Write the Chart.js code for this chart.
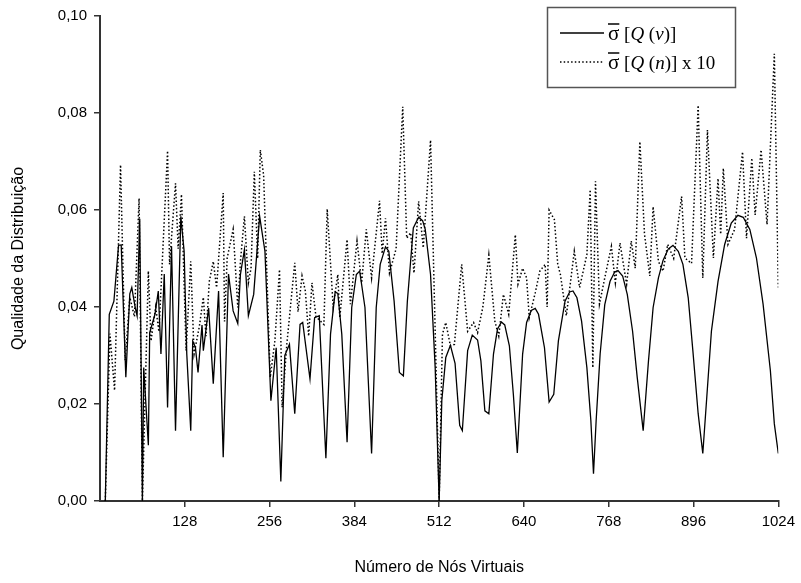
<!DOCTYPE html>
<html>
<head>
<meta charset="utf-8">
<script src="https://cdn.jsdelivr.net/npm/chart.js@4.4.0/dist/chart.umd.min.js"></script>
<style>
  html, body { margin: 0; background: #fff; }
  #wrap { width: 801px; height: 583px; position: relative; }
</style>
</head>
<body>
<div id="wrap"><canvas id="chart"></canvas></div>
<script>
// Eixos
const xTicks = [128, 256, 384, 512, 640, 768, 896, 1024];
const yTicks = [0, 0.02, 0.04, 0.06, 0.08, 0.10];

// Série contínua: sigma[Q(v)]
const solidX = [8, 14, 21, 28, 32, 39, 45, 48, 53, 56, 60, 64, 66, 73, 75, 83, 88, 92, 97, 102,
  108, 114, 122, 127, 131, 137, 140, 144, 148, 154, 156, 164, 171, 179, 186, 194, 201, 208, 212, 218,
  224, 232, 241, 249, 258, 266, 273, 279, 286, 294, 302, 306, 317, 324, 331, 341, 348, 355, 359, 365,
  373, 380, 387, 392, 400, 410, 417, 423, 431, 436, 444, 452, 458, 464, 473, 481, 487, 491, 499, 506,
  512, 516, 522, 529, 536, 543, 547, 555, 562, 570, 575, 581, 587, 594, 600, 606, 611, 618, 624, 630,
  638, 644, 651, 657, 662, 671, 678, 685, 692, 702, 709, 714, 720, 727, 735, 741, 745, 749, 755, 762,
  770, 777, 782, 789, 796, 804, 811, 820, 828, 835, 843, 850, 858, 865, 873, 880, 888, 895, 903, 910,
  916, 923, 933, 943, 953, 963, 971, 981, 991, 1001, 1012, 1018, 1024];
const solidY = [0, 0.0385, 0.0412, 0.0527, 0.0528, 0.0255, 0.0427, 0.044, 0.040, 0.0382, 0.0582, 0, 0.0275, 0.0115, 0.0347, 0.0385, 0.0433, 0.0303, 0.0468, 0.0193,
  0.0525, 0.0145, 0.0587, 0.0515, 0.0303, 0.0145, 0.033, 0.0317, 0.0265, 0.0363, 0.031, 0.0398, 0.0242, 0.0433, 0.009, 0.0468, 0.0392, 0.0366, 0.0467, 0.0518,
  0.0382, 0.0426, 0.0587, 0.0515, 0.0207, 0.0316, 0.004, 0.030, 0.0323, 0.018, 0.0364, 0.0368, 0.0252, 0.0378, 0.0382, 0.0088, 0.0344, 0.0431, 0.0428, 0.0344,
  0.0121, 0.0399, 0.0467, 0.0474, 0.0399, 0.0098, 0.0399, 0.0488, 0.0524, 0.0515, 0.0412, 0.0265, 0.0258, 0.0412, 0.0563, 0.0585, 0.0578, 0.056, 0.0467, 0.0275,
  0, 0.0207, 0.0296, 0.0321, 0.0284, 0.0156, 0.0145, 0.031, 0.0342, 0.0332, 0.0289, 0.0186, 0.018, 0.0303, 0.0354, 0.0369, 0.0363, 0.032, 0.022, 0.0099,
  0.0303, 0.0368, 0.0393, 0.0397, 0.0385, 0.0316, 0.0204, 0.022, 0.033, 0.0412, 0.0431, 0.0433, 0.0419, 0.0371, 0.0275, 0.0166, 0.0056, 0.0166, 0.0303, 0.0405,
  0.0453, 0.0472, 0.0475, 0.0464, 0.0426, 0.035, 0.0255, 0.0145, 0.0289, 0.0399, 0.046, 0.0496, 0.052, 0.0527, 0.0515, 0.0488, 0.0419, 0.031, 0.018, 0.0098,
  0.0214, 0.035, 0.0453, 0.0529, 0.0573, 0.0589, 0.0585, 0.056, 0.0501, 0.0406, 0.0269, 0.0159, 0.0098];

// Série pontilhada: sigma[Q(n)] x 10
const dottedX = [8, 15, 22, 31, 38, 45, 52, 59, 64, 73, 77, 84, 89, 102, 105, 114, 118, 123, 130, 137,
  142, 150, 156, 160, 165, 171, 176, 186, 188, 192, 201, 208, 212, 218, 224, 228, 233, 238, 242, 247,
  257, 264, 271, 275, 282, 294, 299, 305, 310, 315, 320, 326, 338, 343, 352, 359, 362, 373, 378, 388,
  395, 402, 410, 422, 426, 431, 437, 447, 457, 463, 469, 474, 481, 488, 499, 506, 512, 517, 522, 529,
  535, 546, 555, 564, 570, 578, 587, 596, 602, 609, 617, 627, 631, 638, 644, 648, 657, 664, 672, 675,
  678, 686, 691, 695, 704, 716, 724, 735, 740, 744, 748, 754, 762, 772, 778, 785, 795, 802, 808, 815,
  822, 830, 835, 843, 850, 857, 866, 878, 883, 893, 903, 910, 917, 926, 933, 937, 941, 948, 958, 970,
  976, 984, 989, 998, 1007, 1018, 1024];
const dottedY = [0, 0.0345, 0.0228, 0.0693, 0.029, 0.042, 0.038, 0.0624, 0, 0.0474, 0.033, 0.040, 0.0349, 0.0722, 0.0488, 0.0655, 0.052, 0.0632, 0.031, 0.0494,
  0.0303, 0.036, 0.042, 0.034, 0.0453, 0.0494, 0.044, 0.0635, 0.037, 0.0501, 0.056, 0.0399, 0.0494, 0.0587, 0.045, 0.048, 0.0679, 0.05, 0.0724, 0.0672,
  0.0255, 0.033, 0.0477, 0.0193, 0.0323, 0.0491, 0.039, 0.0464, 0.0433, 0.034, 0.045, 0.038, 0.0364, 0.0602, 0.040, 0.0467, 0.0378, 0.0539, 0.0406, 0.0536,
  0.045, 0.056, 0.046, 0.0619, 0.051, 0.0583, 0.047, 0.052, 0.0813, 0.0542, 0.0553, 0.047, 0.0618, 0.0522, 0.0744, 0.035, 0, 0.0344, 0.0368, 0.032,
  0.0323, 0.0488, 0.035, 0.0368, 0.0347, 0.040, 0.0507, 0.0371, 0.034, 0.0426, 0.0385, 0.0549, 0.0447, 0.048, 0.046, 0.0378, 0.0429, 0.0474, 0.0488, 0.040,
  0.060, 0.058, 0.0488, 0.0467, 0.0382, 0.0515, 0.044, 0.0508, 0.0642, 0.0275, 0.0659, 0.0406, 0.046, 0.0525, 0.045, 0.0532, 0.0447, 0.0536, 0.048, 0.0741,
  0.055, 0.0464, 0.0607, 0.0494, 0.0474, 0.0529, 0.050, 0.0628, 0.0501, 0.049, 0.0816, 0.046, 0.0765, 0.0501, 0.0665, 0.055, 0.0686, 0.0529, 0.056, 0.072,
  0.0542, 0.0707, 0.059, 0.0724, 0.057, 0.0922, 0.044];

const toPoints = (xs, ys) => xs.map((x, i) => ({ x: x, y: ys[i] }));
const axisColor = '#333';
const sansFont = 'Liberation Sans';

// legenda desenhada à mão (sigma com barra, Q e v em itálico)
const legendBox = {
  id: 'legendBox',
  afterDraw(chart) {
    const ctx = chart.ctx;
    const box = { x: 547, y: 7, w: 189, h: 81 };
    ctx.save();
    ctx.fillStyle = '#fff';
    ctx.fillRect(box.x, box.y, box.w, box.h);
    ctx.strokeStyle = '#555';
    ctx.lineWidth = 1.5;
    ctx.strokeRect(box.x + 0.5, box.y + 0.5, box.w - 1, box.h - 1);

    const rows = [
      { ds: chart.data.datasets[0], y: 33, arg: 'v', extra: '' },
      { ds: chart.data.datasets[1], y: 62, arg: 'n', extra: ' x 10' }
    ];
    rows.forEach(r => {
      ctx.beginPath();
      ctx.strokeStyle = '#000';
      ctx.lineWidth = r.ds.borderWidth;
      ctx.setLineDash(r.ds.borderDash || []);
      ctx.moveTo(560, r.y);
      ctx.lineTo(604, r.y);
      ctx.stroke();
      ctx.setLineDash([]);

      const base = r.y + 7;
      let x = 608;
      const parts = [
        ['σ', '21px "Liberation Serif"'],
        [' [', '19px "Liberation Serif"'],
        ['Q', 'italic 19px "Liberation Serif"'],
        [' (', '19px "Liberation Serif"'],
        [r.arg, 'italic 19px "Liberation Serif"'],
        [')]' + r.extra, '19px "Liberation Serif"']
      ];
      ctx.fillStyle = '#000';
      ctx.textBaseline = 'alphabetic';
      parts.forEach((p, i) => {
        ctx.font = p[1];
        ctx.fillText(p[0], x, base);
        const w = ctx.measureText(p[0]).width;
        if (i === 0) {
          ctx.beginPath();
          ctx.lineWidth = 1.5;
          ctx.moveTo(x, base - 16);
          ctx.lineTo(x + w, base - 16);
          ctx.stroke();
        }
        x += w;
      });
    });
    ctx.restore();
  }
};

new Chart(document.getElementById('chart'), {
  type: 'line',
  data: {
    datasets: [
      {
        label: 'σ [Q (v)]',
        data: toPoints(solidX, solidY),
        borderColor: '#000',
        borderWidth: 1.3,
        pointRadius: 0,
        tension: 0,
        fill: false
      },
      {
        label: 'σ [Q (n)] x 10',
        data: toPoints(dottedX, dottedY),
        borderColor: '#000',
        borderWidth: 1.5,
        borderDash: [1.5, 2.2],
        pointRadius: 0,
        tension: 0,
        fill: false
      }
    ]
  },
  options: {
    responsive: true,
    maintainAspectRatio: false,
    animation: false,
    layout: { padding: { left: 0, right: 21, top: 14, bottom: 0 } },
    plugins: {
      legend: { display: false },
      tooltip: { enabled: false }
    },
    scales: {
      x: {
        type: 'linear',
        min: 0,
        max: 1024,
        afterBuildTicks: s => { s.ticks = xTicks.map(v => ({ value: v })); },
        afterFit: s => { s.height = 82; },
        ticks: {
          color: '#000',
          font: { family: sansFont, size: 15 },
          padding: 6,
          maxRotation: 0,
          callback: v => String(v)
        },
        grid: { drawOnChartArea: false, drawTicks: true, tickLength: 6, color: axisColor, lineWidth: 1.5 },
        border: { color: axisColor, width: 2 },
        title: {
          display: true,
          text: 'Número de Nós Virtuais',
          color: '#000',
          font: { family: sansFont, size: 16 },
          padding: { top: 4, bottom: 6 }
        }
      },
      y: {
        min: 0,
        max: 0.1,
        afterBuildTicks: s => { s.ticks = yTicks.map(v => ({ value: v })); },
        afterFit: s => { s.width = 100; },
        ticks: {
          color: '#000',
          font: { family: sansFont, size: 15 },
          padding: 7,
          callback: v => v.toFixed(2).replace('.', ',')
        },
        grid: { drawOnChartArea: false, drawTicks: true, tickLength: 6, color: axisColor, lineWidth: 1.5 },
        border: { color: axisColor, width: 2 },
        title: {
          display: true,
          text: 'Qualidade da Distribuição',
          color: '#000',
          font: { family: sansFont, size: 16 },
          padding: { top: 9, bottom: 4 }
        }
      }
    }
  },
  plugins: [legendBox]
});
</script>
</body>
</html>
